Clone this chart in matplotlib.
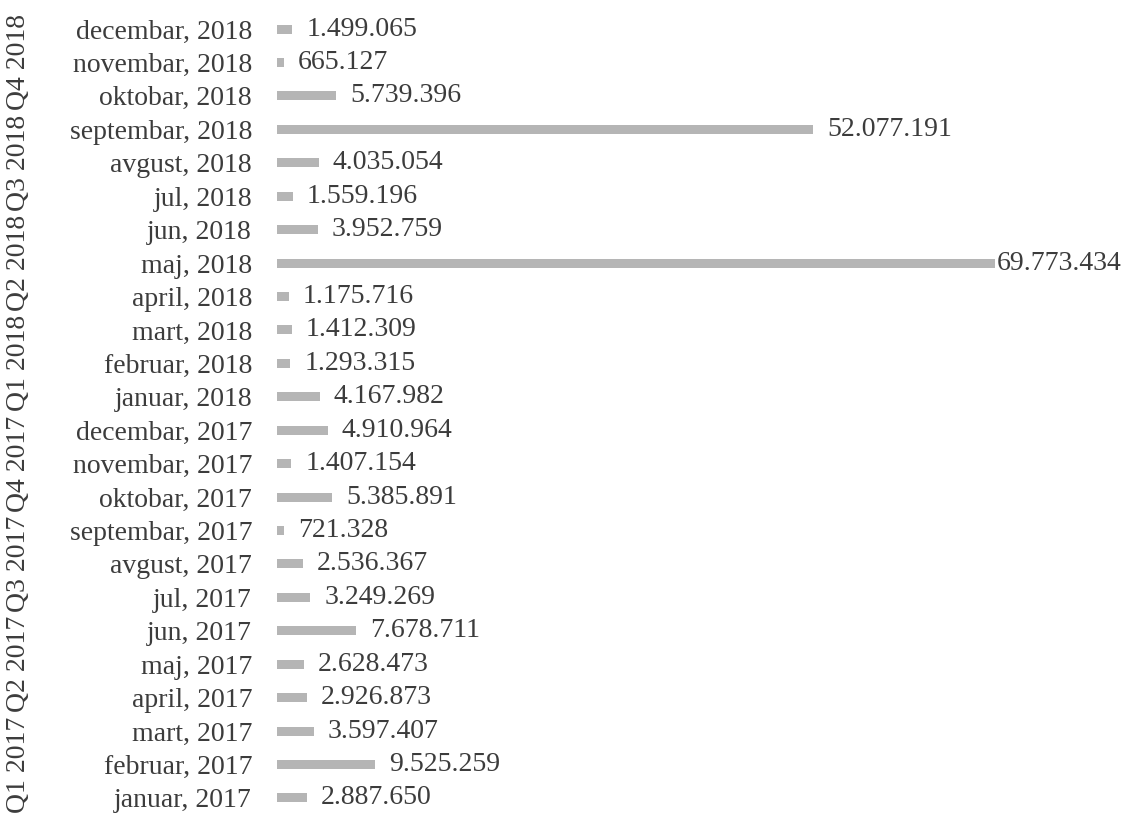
import matplotlib
matplotlib.use('Agg')
import matplotlib.pyplot as plt
import matplotlib.transforms as mtransforms

# monthly values, bottom (januar 2017) to top (decembar 2018)
months = [
    'januar, 2017', 'februar, 2017', 'mart, 2017', 'april, 2017',
    'maj, 2017', 'jun, 2017', 'jul, 2017', 'avgust, 2017',
    'septembar, 2017', 'oktobar, 2017', 'novembar, 2017', 'decembar, 2017',
    'januar, 2018', 'februar, 2018', 'mart, 2018', 'april, 2018',
    'maj, 2018', 'jun, 2018', 'jul, 2018', 'avgust, 2018',
    'septembar, 2018', 'oktobar, 2018', 'novembar, 2018', 'decembar, 2018',
]
values = [
    2887650, 9525259, 3597407, 2926873,
    2628473, 7678711, 3249269, 2536367,
    721328, 5385891, 1407154, 4910964,
    4167982, 1293315, 1412309, 1175716,
    69773434, 3952759, 1559196, 4035054,
    52077191, 5739396, 665127, 1499065,
]
quarters = ['Q1 2017', 'Q2 2017', 'Q3 2017', 'Q4 2017',
            'Q1 2018', 'Q2 2018', 'Q3 2018', 'Q4 2018']

FONT = 'Liberation Serif'
TXT = '#3c3c3c'
BAR = '#b5b5b5'

W, H = 1126, 814
fig = plt.figure(figsize=(W / 100, H / 100), dpi=100)
fig.patch.set_facecolor('white')

# axes placed so bars start ~277px from the left
ax = fig.add_axes([277 / W, 0, 1 - 277 / W, 1])
ypos = list(range(len(months)))
ax.barh(ypos, values, height=0.27, color=BAR, edgecolor='none')

ax.set_xlim(0, max(values) / 0.846)
row_px = 33.4
ax.set_ylim(-(H - 798) / row_px, len(months) - 1 + 29 / row_px)

ax.set_yticks(ypos)
ax.set_yticklabels(months, fontsize=20, family=FONT, color=TXT)
ax.tick_params(axis='y', length=0, pad=18)
ax.set_xticks([])
for s in ax.spines.values():
    s.set_visible(False)

# value labels with dot thousands separator
labels = []
for y, v in zip(ypos, values):
    t = ax.annotate(f'{v:,}'.replace(',', '.'), xy=(v, y), xytext=(10, 0),
                    textcoords='offset points', ha='left', va='center',
                    fontsize=20, family=FONT, color=TXT)
    labels.append(t)

# keep labels inside the figure (like Excel does)
fig.canvas.draw()
r = fig.canvas.get_renderer()
for t in labels:
    bb = t.get_window_extent(r)
    if bb.x1 > W - 4:
        t.set_position((10 - (bb.x1 - (W - 4)) * 72 / 100, 0))

# quarter group labels, rotated, on the far left
trans = mtransforms.blended_transform_factory(fig.transFigure, ax.transData)
for k, q in enumerate(quarters):
    ax.text(19 / W, 3 * k + 1, q, transform=trans, rotation=90,
            ha='center', va='center', fontsize=20, family=FONT, color=TXT)

fig.savefig('out.png', dpi=100, facecolor='white')
